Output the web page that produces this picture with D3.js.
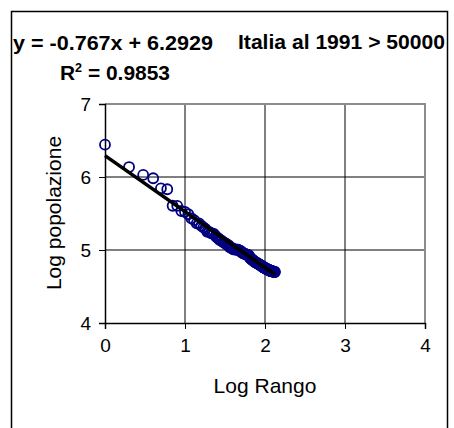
<!DOCTYPE html>
<html><head><meta charset="utf-8">
<script src="https://cdn.jsdelivr.net/npm/d3@7"></script>
<style>body{margin:0;background:#fff}svg{display:block}text{font-family:Arial,"Liberation Sans",sans-serif}</style>
</head><body>
<script>
// Populations (thousands) of Italian cities > 50000 at the 1991 census, by rank
const popolazione = [2775,1369,1067,962,699,679,404,403,342,333,
309,272,256,232,231,215,204,195,178,177,
171,168,166,156,149,145,138,136,132,128,
126,122,121,117,116,110,108,107,106,102,
102,102,101,101,101,101,99,98,98,95,
94,92,90,90,89,89,87,87,86,86,
86,85,84,80,78,77,76,74,74,73,
72,71,70,69,69,68,67,67,66,66,
65,65,64,64,63,63,62,62,61,61,
60,60,59,59,58,58,58,57,57,57,
56,56,56,55,55,55,54,54,54,54,
53,53,53,53,52,52,52,52,52,51,
51,51,51,51,51,50.8,50.6,50.5,50.4,50.3,
50.2,50.1,50.0];
const slope = -0.767, intercept = 6.2929;
const xTicks = [0,1,2,3,4];
const yTicks = [4,5,6,7];
const eqLabel = "y = -0.767x + 6.2929";
const title = "Italia al 1991 > 50000";

const points = popolazione.map((p,i)=>({x:Math.log10(i+1), y:Math.log10(p*1000)}));

const W=454,H=428;
const svg=d3.select("body").append("svg").attr("width",W).attr("height",H);
svg.append("rect").attr("x",11.5).attr("y",11.5).attr("width",436).attr("height",430)
  .attr("fill","#fff").attr("stroke","#000").attr("stroke-width",1.5);

const x=d3.scaleLinear().domain([0,4]).range([105,425]);
const y=d3.scaleLinear().domain([4,7]).range([323,104]);

const g=svg.append("g");
g.selectAll(".gx").data(xTicks.slice(1,-1)).join("line")
  .attr("x1",d=>x(d)).attr("x2",d=>x(d)).attr("y1",y(7)).attr("y2",y(4))
  .attr("stroke","#000").attr("stroke-width",1);
g.selectAll(".gy").data(yTicks.slice(1,-1)).join("line")
  .attr("x1",x(0)).attr("x2",x(4)).attr("y1",d=>y(d)).attr("y2",d=>y(d))
  .attr("stroke","#000").attr("stroke-width",1);
svg.append("path").attr("d",`M${x(0)},${y(7)}H${x(4)}V${y(4)}`)
  .attr("fill","none").attr("stroke","#8c8c8c").attr("stroke-width",2);

const xa=svg.append("g").attr("transform",`translate(0,${y(4)})`)
  .call(d3.axisBottom(x).tickValues(xTicks).tickSize(6).tickPadding(10).tickFormat(d3.format("d")));
const ya=svg.append("g").attr("transform",`translate(${x(0)},0)`)
  .call(d3.axisLeft(y).tickValues(yTicks).tickSize(6).tickPadding(8).tickFormat(d3.format("d")));
[xa,ya].forEach(a=>{
  a.select(".domain").attr("stroke","#000").attr("stroke-width",1.5);
  a.selectAll(".tick line").attr("stroke","#000").attr("stroke-width",1);
  a.selectAll("text").attr("font-size",19).attr("fill","#000").attr("font-family","Arial, 'Liberation Sans', sans-serif");
});

svg.append("g").selectAll("circle").data(points).join("circle")
  .attr("cx",d=>x(d.x)).attr("cy",d=>y(d.y)).attr("r",5)
  .attr("fill","none").attr("stroke","#000080").attr("stroke-width",1.8);

const xmax=d3.max(points,d=>d.x);
svg.append("line").attr("x1",x(0)).attr("y1",y(intercept))
  .attr("x2",x(xmax)).attr("y2",y(intercept+slope*xmax))
  .attr("stroke","#000").attr("stroke-width",3.5);

svg.append("text").attr("x",13).attr("y",50).attr("font-weight","bold").attr("font-size",20)
  .attr("textLength",200).attr("lengthAdjust","spacingAndGlyphs").text(eqLabel);
const r2=svg.append("text").attr("x",60).attr("y",80).attr("font-weight","bold").attr("font-size",20)
  .attr("textLength",110).attr("lengthAdjust","spacingAndGlyphs");
r2.append("tspan").text("R");
r2.append("tspan").attr("font-size",12).attr("dy",-8).text("2");
r2.append("tspan").attr("dy",8).text(" = 0.9853");
svg.append("text").attr("x",238).attr("y",49).attr("font-weight","bold").attr("font-size",20)
  .attr("textLength",207).attr("lengthAdjust","spacingAndGlyphs").text(title);
svg.append("text").attr("x",265).attr("y",393).attr("text-anchor","middle").attr("font-size",21)
  .text("Log Rango");
svg.append("text").attr("transform","translate(61,213) rotate(-90)").attr("text-anchor","middle").attr("font-size",21)
  .text("Log popolazione");
</script>
</body></html>
